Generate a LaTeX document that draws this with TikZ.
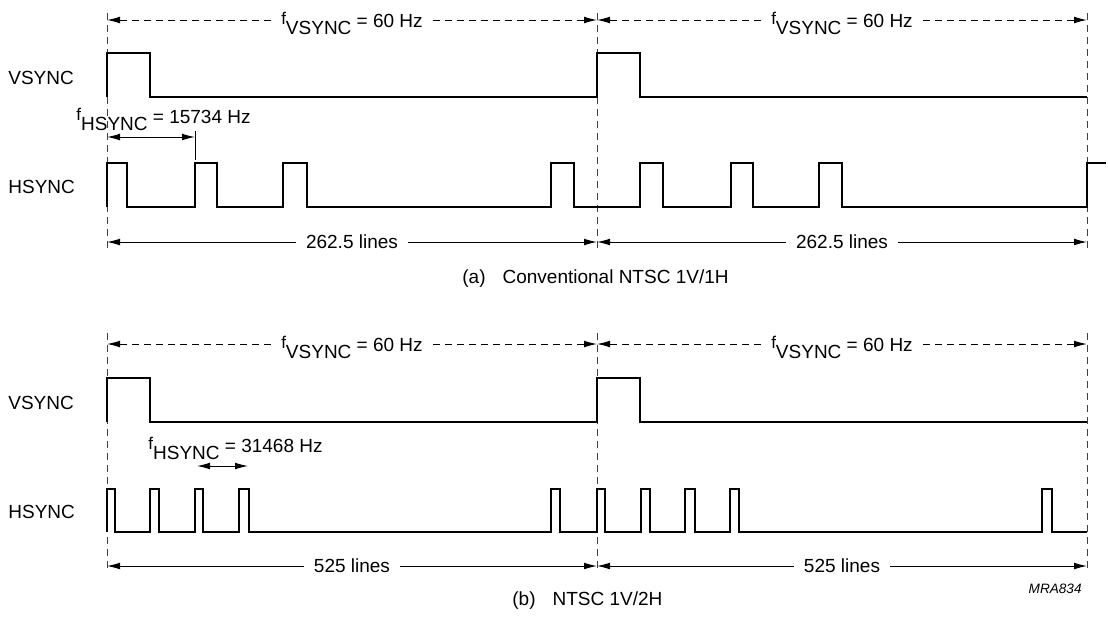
\documentclass[tikz,border=0pt]{standalone}
\usepackage{fontspec}
\setmainfont{Liberation Sans}
\usetikzlibrary{arrows.meta}

\newcommand{\fsub}[1]{\raisebox{1.5pt}{\fontsize{8.5}{9}\selectfont f}\raisebox{-3.5pt}[0pt][0pt]{#1}}

\begin{document}
\begin{tikzpicture}[x=0.5pt,y=-0.5pt,
  font=\fontsize{9.5}{11}\selectfont,
  wave/.style={line width=1.4pt,line join=miter},
  guide/.style={dash pattern=on 3.5pt off 2.5pt,line width=0.45pt,black!75},
  dimline/.style={line width=0.5pt,-{Latex[length=6.5pt,width=3.4pt]}},
  dimdash/.style={dimline,dash pattern=on 3.5pt off 2.5pt},
  dimboth/.style={line width=0.5pt,{Latex[length=6.5pt,width=3.4pt]}-{Latex[length=6.5pt,width=3.4pt]}},
  dimlbl/.style={inner xsep=5pt,inner ysep=0pt},
  siglbl/.style={anchor=west,inner sep=0pt}]
\useasboundingbox (0,0) rectangle (1108,623);

% (a) conventional NTSC 1V/1H
\draw[guide] (107,13) -- (107,250);
\draw[guide] (597,13) -- (597,250);
\draw[guide] (1087,13) -- (1087,250);
\coordinate (aT0) at (107,20);
\coordinate (aT1) at (597,20);
\coordinate (aT2) at (1087,20);
\coordinate (aB0) at (107,242);
\coordinate (aB1) at (597,242);
\coordinate (aB2) at (1087,242);

\node[dimlbl] (aV1) at (352,20) {\fsub{VSYNC} = 60 Hz};
\node[dimlbl] (aV2) at (842,20) {\fsub{VSYNC} = 60 Hz};
\draw[dimdash] (aV1) -- (aT0);
\draw[dimdash] (aV1) -- (aT1);
\draw[dimdash] (aV2) -- (aT1);
\draw[dimdash] (aV2) -- (aT2);

\node[siglbl] (aVS) at (8,78) {VSYNC};
\node[siglbl] (aHS) at (8,187) {HSYNC};

\draw[wave] (107,97) -- (107,53) -- (150,53) -- (150,97) -- (597,97) -- (597,53)
  -- (640,53) -- (640,97) -- (1087,97);
\draw[wave] (107,207) -- (107,163) -- (127,163) -- (127,207) -- (195,207) -- (195,163)
  -- (217,163) -- (217,207) -- (283,207) -- (283,163) -- (307,163) -- (307,207)
  -- (551,207) -- (551,163) -- (574,163) -- (574,207) -- (640,207) -- (640,163)
  -- (663,163) -- (663,207) -- (731,207) -- (731,163) -- (753,163) -- (753,207)
  -- (819,207) -- (819,163) -- (842,163) -- (842,207) -- (1087,207) -- (1087,163)
  -- (1106,163);

\node[anchor=base west,inner sep=0pt] (aHF) at (76,123) {\fsub{HSYNC} = 15734 Hz};
\coordinate (aP0) at (107,137);
\coordinate (aP1) at (195,137);
\coordinate (aP2) at (195,160);
\draw[dimboth] (aP0) -- (aP1);
\draw[line width=0.5pt] (195,131) -- (aP2);

\node[dimlbl] (aL1) at (352,242) {262.5 lines};
\node[dimlbl] (aL2) at (842,242) {262.5 lines};
\draw[dimline] (aL1) -- (aB0);
\draw[dimline] (aL1) -- (aB1);
\draw[dimline] (aL2) -- (aB1);
\draw[dimline] (aL2) -- (aB2);

\node[anchor=base west,inner sep=0pt] (capA) at (462,283) {(a)\hspace{8.5pt}Conventional NTSC 1V/1H};

% (b) NTSC 1V/2H
\draw[guide] (107,333) -- (107,571);
\draw[guide] (597,333) -- (597,571);
\draw[guide] (1087,333) -- (1087,571);
\coordinate (bT0) at (107,344);
\coordinate (bT1) at (597,344);
\coordinate (bT2) at (1087,344);
\coordinate (bB0) at (107,566);
\coordinate (bB1) at (597,566);
\coordinate (bB2) at (1087,566);

\node[dimlbl] (bV1) at (352,344) {\fsub{VSYNC} = 60 Hz};
\node[dimlbl] (bV2) at (842,344) {\fsub{VSYNC} = 60 Hz};
\draw[dimdash] (bV1) -- (bT0);
\draw[dimdash] (bV1) -- (bT1);
\draw[dimdash] (bV2) -- (bT1);
\draw[dimdash] (bV2) -- (bT2);

\node[siglbl] (bVS) at (8,403) {VSYNC};
\node[siglbl] (bHS) at (8,512) {HSYNC};

\draw[wave] (107,422) -- (107,378) -- (150,378) -- (150,422) -- (597,422) -- (597,378)
  -- (640,378) -- (640,422) -- (1087,422);
\draw[wave] (107,532) -- (107,489) -- (115,489) -- (115,532) -- (150,532) -- (150,489)
  -- (159,489) -- (159,532) -- (195,532) -- (195,489) -- (203,489) -- (203,532)
  -- (239,532) -- (239,489) -- (249,489) -- (249,532) -- (551,532) -- (551,489)
  -- (560,489) -- (560,532) -- (597,532) -- (597,489) -- (605,489) -- (605,532)
  -- (641,532) -- (641,489) -- (650,489) -- (650,532) -- (685,532) -- (685,489)
  -- (695,489) -- (695,532) -- (730,532) -- (730,489) -- (739,489) -- (739,532)
  -- (1042,532) -- (1042,489) -- (1052,489) -- (1052,532) -- (1087,532);

\node[anchor=base west,inner sep=0pt] (bHF) at (148,452) {\fsub{HSYNC} = 31468 Hz};
\coordinate (bP0) at (197,466);
\coordinate (bP1) at (248,466);
\draw[dimboth] (bP0) -- (bP1);

\node[dimlbl] (bL1) at (352,566) {525 lines};
\node[dimlbl] (bL2) at (842,566) {525 lines};
\draw[dimline] (bL1) -- (bB0);
\draw[dimline] (bL1) -- (bB1);
\draw[dimline] (bL2) -- (bB1);
\draw[dimline] (bL2) -- (bB2);

\node[anchor=base east,inner sep=0pt,font=\fontsize{6.8}{8}\selectfont\itshape] (code) at (1082,593) {MRA834};
\node[anchor=base west,inner sep=0pt] (capB) at (512,605) {(b)\hspace{8.5pt}NTSC 1V/2H};
\end{tikzpicture}
\end{document}
